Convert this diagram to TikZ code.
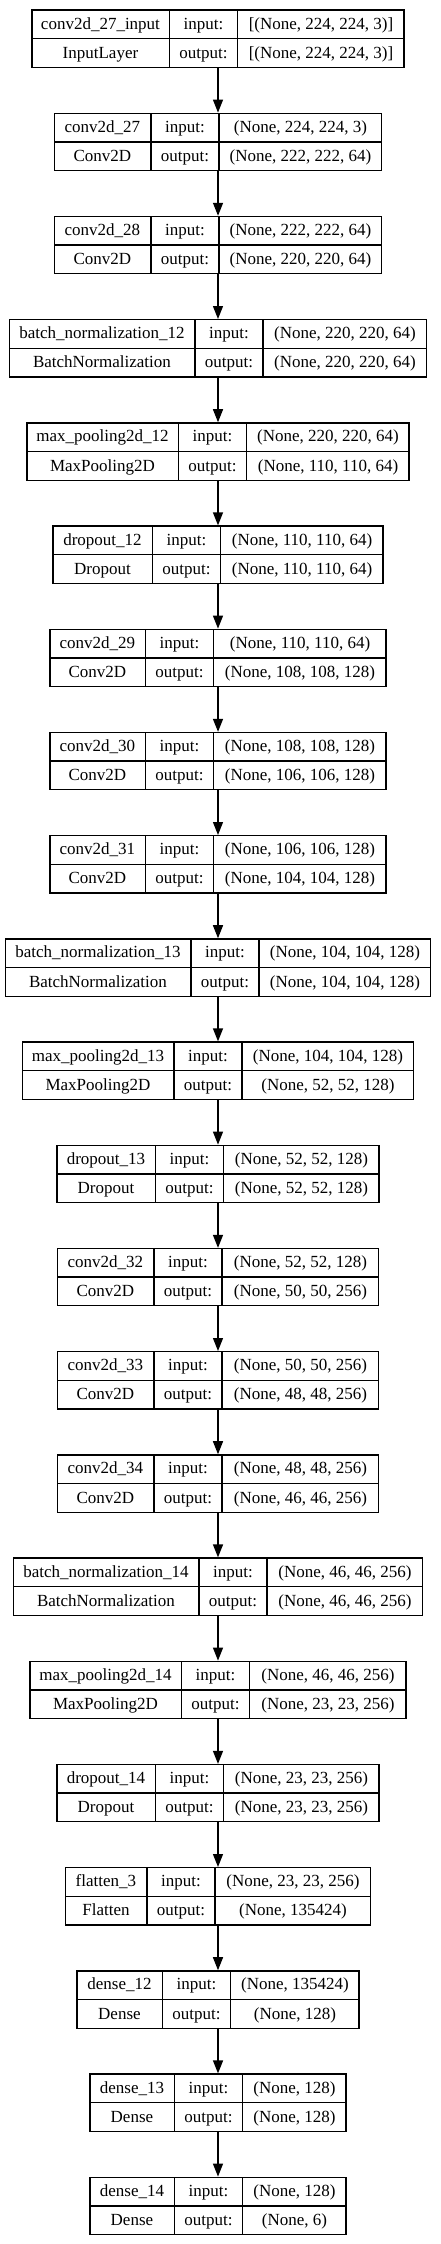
\documentclass[tikz,border=0pt]{standalone}
\usepackage{fontspec}
\setmainfont{Liberation Serif}
\usepackage{array}
\usepackage{tikz}
\usetikzlibrary{arrows.meta}

\setlength{\tabcolsep}{0pt}
\setlength{\arrayrulewidth}{1.3pt}
\newcolumntype{C}[1]{>{\centering\arraybackslash}p{#1}}
\newcommand{\rowstrut}{\rule[-9pt]{0pt}{28pt}}
% name | input: | shape, two rows
\newcommand{\layerbox}[6]{%
\begin{tabular}{C{#1pt}|C{66.5pt}|C{#2pt}}
\rowstrut #3 & input: & #5\\ \hline
\rowstrut #4 & output: & #6
\end{tabular}}

\tikzstyle{layer} = [rectangle, 
draw=black, 
line width=1.3pt, 
inner sep=0pt, 
font=\fontsize{17pt}{19pt}\selectfont]
\tikzstyle{arrow} = [line width=1.3pt,-{Triangle[length=13pt,width=10pt]}]

\begin{document}
\begin{tikzpicture}[node distance=103.2pt]
\useasboundingbox (0,0) rectangle (440pt,-2244pt);

\node (in27) [layer] at (218pt,-38.7pt) {\layerbox{137}{166}{conv2d\_27\_input}{InputLayer}{[(None, 224, 224, 3)]}{[(None, 224, 224, 3)]}};
\node (c27) [layer, below of=in27] {\layerbox{96}{162}{conv2d\_27}{Conv2D}{(None, 224, 224, 3)}{(None, 222, 222, 64)}};
\node (c28) [layer, below of=c27] {\layerbox{96}{162}{conv2d\_28}{Conv2D}{(None, 222, 222, 64)}{(None, 220, 220, 64)}};
\node (bn12) [layer, below of=c28] {\layerbox{185}{163}{batch\_normalization\_12}{BatchNormalization}{(None, 220, 220, 64)}{(None, 220, 220, 64)}};
\node (mp12) [layer, below of=bn12] {\layerbox{151}{162}{max\_pooling2d\_12}{MaxPooling2D}{(None, 220, 220, 64)}{(None, 110, 110, 64)}};
\node (dr12) [layer, below of=mp12] {\layerbox{99}{162}{dropout\_12}{Dropout}{(None, 110, 110, 64)}{(None, 110, 110, 64)}};
\node (c29) [layer, below of=dr12] {\layerbox{95}{172}{conv2d\_29}{Conv2D}{(None, 110, 110, 64)}{(None, 108, 108, 128)}};
\node (c30) [layer, below of=c29] {\layerbox{95}{172}{conv2d\_30}{Conv2D}{(None, 108, 108, 128)}{(None, 106, 106, 128)}};
\node (c31) [layer, below of=c30] {\layerbox{95}{172}{conv2d\_31}{Conv2D}{(None, 106, 106, 128)}{(None, 104, 104, 128)}};
\node (bn13) [layer, below of=c31] {\layerbox{185}{171}{batch\_normalization\_13}{BatchNormalization}{(None, 104, 104, 128)}{(None, 104, 104, 128)}};
\node (mp13) [layer, below of=bn13] {\layerbox{151}{171}{max\_pooling2d\_13}{MaxPooling2D}{(None, 104, 104, 128)}{(None, 52, 52, 128)}};
\node (dr13) [layer, below of=mp13] {\layerbox{98}{155}{dropout\_13}{Dropout}{(None, 52, 52, 128)}{(None, 52, 52, 128)}};
\node (c32) [layer, below of=dr13] {\layerbox{96}{156}{conv2d\_32}{Conv2D}{(None, 52, 52, 128)}{(None, 50, 50, 256)}};
\node (c33) [layer, below of=c32] {\layerbox{96}{156}{conv2d\_33}{Conv2D}{(None, 50, 50, 256)}{(None, 48, 48, 256)}};
\node (c34) [layer, below of=c33] {\layerbox{96}{156}{conv2d\_34}{Conv2D}{(None, 48, 48, 256)}{(None, 46, 46, 256)}};
\node (bn14) [layer, below of=c34] {\layerbox{185}{155}{batch\_normalization\_14}{BatchNormalization}{(None, 46, 46, 256)}{(None, 46, 46, 256)}};
\node (mp14) [layer, below of=bn14] {\layerbox{151}{156}{max\_pooling2d\_14}{MaxPooling2D}{(None, 46, 46, 256)}{(None, 23, 23, 256)}};
\node (dr14) [layer, below of=mp14] {\layerbox{98}{155}{dropout\_14}{Dropout}{(None, 23, 23, 256)}{(None, 23, 23, 256)}};
\node (fl3) [layer, below of=dr14] {\layerbox{81}{155}{flatten\_3}{Flatten}{(None, 23, 23, 256)}{(None, 135424)}};
\node (d12) [layer, below of=fl3] {\layerbox{85}{128}{dense\_12}{Dense}{(None, 135424)}{(None, 128)}};
\node (d13) [layer, below of=d12] {\layerbox{84}{103}{dense\_13}{Dense}{(None, 128)}{(None, 128)}};
\node (d14) [layer, below of=d13] {\layerbox{84}{103}{dense\_14}{Dense}{(None, 128)}{(None, 6)}};

\draw [arrow] (in27) -- (c27);
\draw [arrow] (c27) -- (c28);
\draw [arrow] (c28) -- (bn12);
\draw [arrow] (bn12) -- (mp12);
\draw [arrow] (mp12) -- (dr12);
\draw [arrow] (dr12) -- (c29);
\draw [arrow] (c29) -- (c30);
\draw [arrow] (c30) -- (c31);
\draw [arrow] (c31) -- (bn13);
\draw [arrow] (bn13) -- (mp13);
\draw [arrow] (mp13) -- (dr13);
\draw [arrow] (dr13) -- (c32);
\draw [arrow] (c32) -- (c33);
\draw [arrow] (c33) -- (c34);
\draw [arrow] (c34) -- (bn14);
\draw [arrow] (bn14) -- (mp14);
\draw [arrow] (mp14) -- (dr14);
\draw [arrow] (dr14) -- (fl3);
\draw [arrow] (fl3) -- (d12);
\draw [arrow] (d12) -- (d13);
\draw [arrow] (d13) -- (d14);

\end{tikzpicture}
\end{document}
